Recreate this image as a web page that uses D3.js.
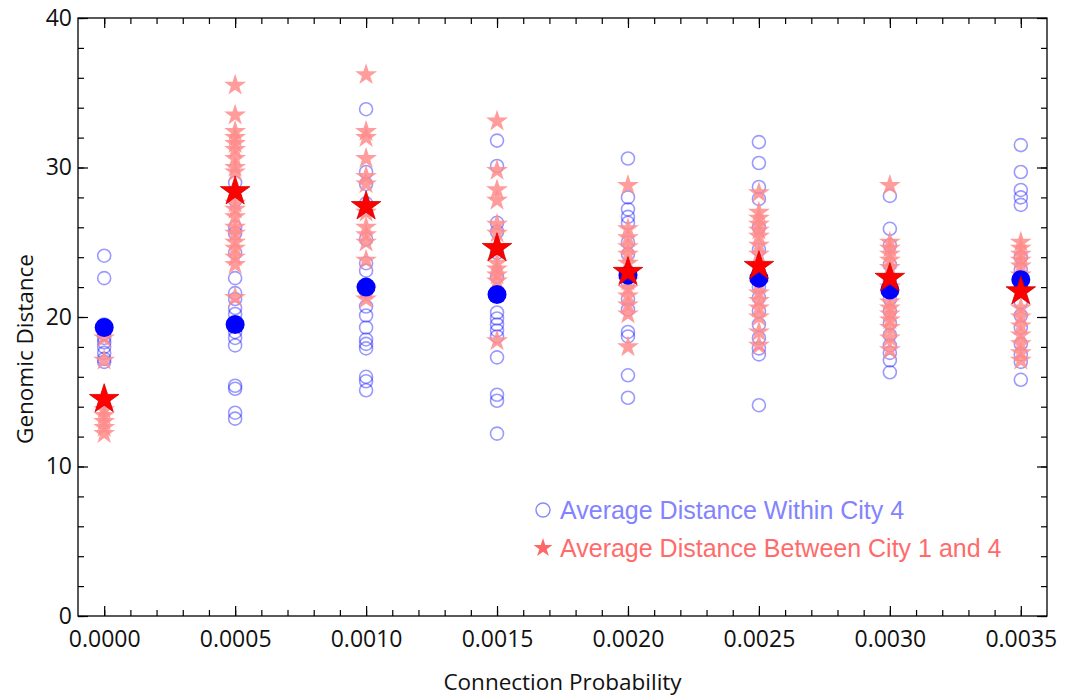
<!DOCTYPE html>
<html>
<head>
<meta charset="utf-8">
<script src="https://cdn.jsdelivr.net/npm/d3@7"></script>
<style>
  body { margin: 0; background: #fff; }
  svg { display: block; }
</style>
</head>
<body>
<div id="chart"></div>
<script>
// connection probabilities (x categories)
var probs = [0.0000, 0.0005, 0.0010, 0.0015, 0.0020, 0.0025, 0.0030, 0.0035];

// average distance within city 4 (open circles), one list per probability
var within = [
  [24.1, 22.6, 19.5, 19.2, 18.9, 18.6, 18.3, 18.0, 17.6, 17.2, 17.0],
  [29.0, 27.8, 26.0, 25.6, 24.3, 22.6, 21.6, 21.2, 20.6, 20.2, 19.0, 18.6, 18.1, 15.4, 15.2, 13.6, 13.2],
  [33.9, 29.7, 28.9, 27.6, 25.2, 23.6, 23.1, 21.7, 20.7, 20.1, 19.3, 18.5, 18.2, 17.9, 16.0, 15.7, 15.1],
  [31.8, 30.1, 26.3, 25.7, 24.3, 22.7, 20.3, 19.9, 19.5, 19.1, 18.7, 17.3, 14.8, 14.4, 12.2],
  [30.6, 28.0, 27.2, 26.7, 26.3, 25.0, 24.2, 23.0, 22.3, 21.2, 20.5, 19.0, 18.7, 16.1, 14.6],
  [31.7, 30.3, 28.7, 27.9, 26.0, 24.5, 23.0, 22.0, 21.3, 20.4, 19.5, 18.6, 17.9, 17.5, 14.1],
  [28.1, 25.9, 24.8, 23.5, 22.4, 21.2, 20.4, 19.6, 18.8, 18.1, 17.6, 17.1, 16.3],
  [31.5, 29.7, 28.5, 28.0, 27.5, 24.0, 23.2, 22.0, 21.0, 20.1, 19.3, 18.2, 17.5, 17.0, 15.8]
];

// average distance between city 1 and 4 (stars)
var between = [
  [18.6, 17.1, 13.8, 13.4, 13.0, 12.6, 12.2],
  [35.5, 33.5, 32.4, 32.0, 31.6, 31.2, 30.6, 30.0, 29.7, 27.6, 27.2, 26.7, 26.0, 25.6, 25.0, 24.6, 24.0, 23.5, 21.3],
  [36.2, 32.4, 32.0, 30.6, 29.4, 28.9, 27.0, 26.0, 25.5, 25.0, 23.8, 21.8, 21.2],
  [33.1, 29.8, 28.5, 27.8, 26.2, 25.6, 23.6, 23.2, 22.8, 22.4, 18.4],
  [28.8, 25.9, 25.3, 24.7, 24.2, 23.6, 22.4, 21.9, 21.4, 20.8, 20.2, 18.0],
  [28.3, 27.0, 26.6, 26.2, 25.8, 25.4, 24.8, 24.2, 22.2, 21.6, 21.1, 20.6, 20.0, 19.0, 18.1],
  [28.8, 25.0, 24.6, 24.2, 23.8, 23.3, 22.0, 21.0, 20.6, 20.2, 19.8, 19.3, 18.6, 17.8],
  [25.0, 24.6, 24.2, 23.8, 23.4, 22.8, 20.6, 20.0, 19.4, 18.8, 18.2, 17.6, 17.1]
];

// means
var withinMean = [19.3, 19.5, 22.0, 21.5, 22.8, 22.6, 21.8, 22.5];
var betweenMean = [14.5, 28.4, 27.4, 24.6, 23.0, 23.4, 22.6, 21.7];

var yTicks = [0, 10, 20, 30, 40];
var legendLabels = ["Average Distance Within City 4", "Average Distance Between City 1 and 4"];

var W = 1072, H = 696;
var pLeft = 78, pRight = 1047, pTop = 18, pBottom = 616;

var svg = d3.select("#chart").append("svg")
    .attr("width", W)
    .attr("height", H);

var x = d3.scaleLinear().domain([-0.0001, 0.0036]).range([pLeft, pRight]);
var y = d3.scaleLinear().domain([0, 40]).range([pBottom, pTop]);

var xMinor = d3.range(0, 36).map(function(i) { return i * 0.0001; });
var yMinor = d3.range(0, 21).map(function(i) { return i * 2; });

var tickFont = "'Open Sans', 'Noto Sans', sans-serif";

// bottom axis (labels + major ticks)
svg.append("g")
    .attr("transform", "translate(0," + pBottom + ")")
    .call(d3.axisBottom(x).tickValues(probs).tickSize(-10).tickSizeOuter(0)
      .tickPadding(15).tickFormat(d3.format(".4f")));
svg.append("g")
    .attr("transform", "translate(0," + pBottom + ")")
    .call(d3.axisBottom(x).tickValues(xMinor).tickSize(-6).tickSizeOuter(0).tickFormat(""));

// top axis ticks only
svg.append("g")
    .attr("transform", "translate(0," + pTop + ")")
    .call(d3.axisTop(x).tickValues(probs).tickSize(-10).tickSizeOuter(0).tickFormat(""));
svg.append("g")
    .attr("transform", "translate(0," + pTop + ")")
    .call(d3.axisTop(x).tickValues(xMinor).tickSize(-6).tickSizeOuter(0).tickFormat(""));

// left axis
svg.append("g")
    .attr("transform", "translate(" + pLeft + ",0)")
    .call(d3.axisLeft(y).tickValues(yTicks).tickSize(-10).tickSizeOuter(0).tickPadding(6));
svg.append("g")
    .attr("transform", "translate(" + pLeft + ",0)")
    .call(d3.axisLeft(y).tickValues(yMinor).tickSize(-6).tickSizeOuter(0).tickFormat(""));

// right axis ticks only
svg.append("g")
    .attr("transform", "translate(" + pRight + ",0)")
    .call(d3.axisRight(y).tickValues(yTicks).tickSize(-10).tickSizeOuter(0).tickFormat(""));
svg.append("g")
    .attr("transform", "translate(" + pRight + ",0)")
    .call(d3.axisRight(y).tickValues(yMinor).tickSize(-6).tickSizeOuter(0).tickFormat(""));

svg.selectAll(".domain").remove();
svg.selectAll(".tick line").attr("stroke", "#000").attr("stroke-width", 1.2);
svg.selectAll(".tick text")
    .style("font-family", tickFont)
    .style("font-size", "23px")
    .attr("fill", "#111");

// frame
svg.append("rect")
    .attr("x", pLeft)
    .attr("y", pTop)
    .attr("width", pRight - pLeft)
    .attr("height", pBottom - pTop)
    .attr("fill", "none")
    .attr("stroke", "#000")
    .attr("stroke-width", 1.3);

// flatten points
var circlePts = [], starPts = [];
probs.forEach(function(p, i) {
  within[i].forEach(function(v) { circlePts.push({p: p, v: v}); });
  between[i].forEach(function(v) { starPts.push({p: p, v: v}); });
});

var plot = svg.append("g");

plot.selectAll(".pt")
  .data(circlePts)
  .enter().append("circle")
    .attr("class", "pt")
    .attr("cx", function(d) { return x(d.p); })
    .attr("cy", function(d) { return y(d.v); })
    .attr("r", 6.5)
    .attr("fill", "none")
    .attr("stroke", "#0000ff")
    .attr("stroke-opacity", 0.4)
    .attr("stroke-width", 1.6);

var star = d3.symbol().type(d3.symbolStar);

plot.selectAll(".st")
  .data(starPts)
  .enter().append("path")
    .attr("class", "st")
    .attr("d", star.size(11.5 * 11.5 / 0.8908))
    .attr("transform", function(d) { return "translate(" + x(d.p) + "," + y(d.v) + ")"; })
    .attr("fill", "#ff8c8c")
    .attr("fill-opacity", 0.85);

plot.selectAll(".wm")
  .data(withinMean)
  .enter().append("circle")
    .attr("class", "wm")
    .attr("cx", function(d, i) { return x(probs[i]); })
    .attr("cy", function(d) { return y(d); })
    .attr("r", 9.5)
    .attr("fill", "#0000ff");

plot.selectAll(".bm")
  .data(betweenMean)
  .enter().append("path")
    .attr("class", "bm")
    .attr("d", d3.symbol().type(d3.symbolStar).size(15.5 * 15.5 / 0.8908))
    .attr("transform", function(d, i) { return "translate(" + x(probs[i]) + "," + y(d) + ")"; })
    .attr("fill", "#ff0000")
    .attr("stroke", "#d00000")
    .attr("stroke-width", 0.8);

// legend
var legend = svg.append("g");
legend.append("circle")
    .attr("cx", 543).attr("cy", 510).attr("r", 7)
    .attr("fill", "none")
    .attr("stroke", "#8888ff")
    .attr("stroke-width", 1.4);
legend.append("path")
    .attr("d", d3.symbol().type(d3.symbolStar).size(10 * 10 / 0.8908))
    .attr("transform", "translate(543,548)")
    .attr("fill", "#ff6666");
legend.selectAll("text")
  .data(legendLabels)
  .enter().append("text")
    .attr("x", 560)
    .attr("y", function(d, i) { return 510 + i * 38; })
    .attr("dy", "0.36em")
    .style("font-family", "'Liberation Sans', Arial, sans-serif")
    .style("font-size", "25px")
    .attr("fill", function(d, i) { return i === 0 ? "#8383ff" : "#ff6b6b"; })
    .text(function(d) { return d; });

// axis titles
svg.append("text")
    .attr("x", (pLeft + pRight) / 2)
    .attr("y", 690)
    .attr("text-anchor", "middle")
    .style("font-family", tickFont)
    .style("font-size", "22.5px")
    .attr("fill", "#111")
    .text("Connection Probability");

svg.append("text")
    .attr("transform", "translate(33,349) rotate(-90)")
    .attr("text-anchor", "middle")
    .style("font-family", tickFont)
    .style("font-size", "22.5px")
    .attr("fill", "#111")
    .text("Genomic Distance");
</script>
</body>
</html>
